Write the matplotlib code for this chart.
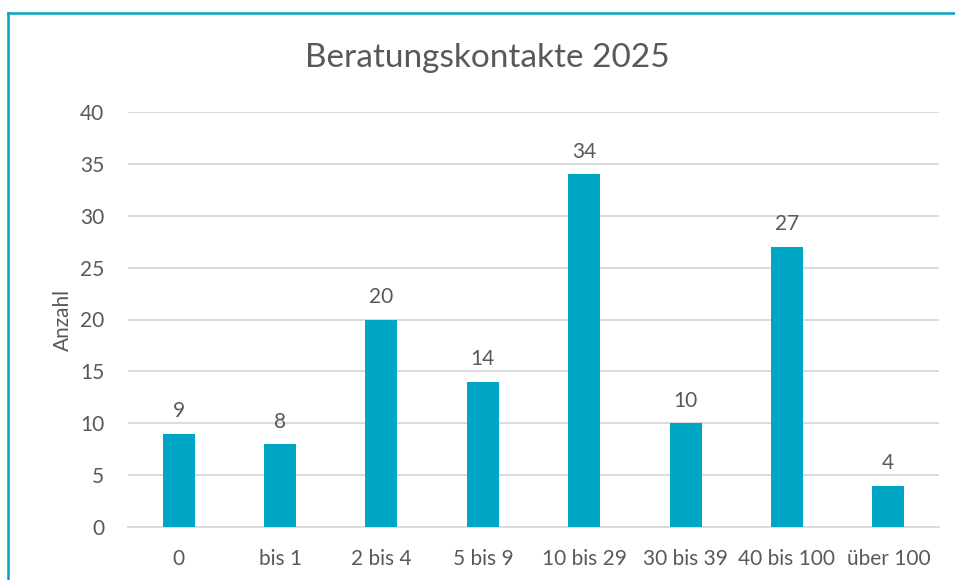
import matplotlib
matplotlib.use("Agg")
import matplotlib.pyplot as plt
from matplotlib.lines import Line2D

categories = ["0", "bis 1", "2 bis 4", "5 bis 9", "10 bis 29", "30 bis 39", "40 bis 100", "über 100"]
values = [9, 8, 20, 14, 34, 10, 27, 4]
yticks = [0, 5, 10, 15, 20, 25, 30, 35, 40]
title = "Beratungskontakte 2025"
ylabel = "Anzahl"

bar_color = "#00A7C4"
text_color = "#595959"
grid_color = "#D9D9D9"

plt.rcParams['font.family'] = ['Lato', 'DejaVu Sans']

fig = plt.figure(figsize=(9.55, 5.8), dpi=100)
ax = fig.add_axes([128/955, 1-527/580, (939-128)/955, (527-112)/580])

x = list(range(len(categories)))
bars = ax.bar(x, values, width=0.315, color=bar_color, zorder=3)
ax.set_xlim(-0.5, len(categories)-0.5)
ax.set_ylim(0, 40)
ax.set_yticks(yticks)
ax.set_xticks(x)
ax.set_xticklabels(categories)
ax.tick_params(axis='both', length=0, labelsize=15, colors=text_color)
ax.tick_params(axis='x', pad=16)
ax.tick_params(axis='y', pad=17)
ax.grid(axis='y', color=grid_color, linewidth=1.3, zorder=0)
for s in ['top', 'right', 'left']:
    ax.spines[s].set_visible(False)
ax.spines['bottom'].set_color(grid_color)
ax.spines['bottom'].set_linewidth(1.3)

for xi, v in zip(x, values):
    ax.annotate(str(v), (xi, v), xytext=(0, 9), textcoords='offset points',
                ha='center', va='bottom', fontsize=15, color=text_color)

ax.set_ylabel(ylabel, fontsize=15, color=text_color, labelpad=5)
fig.text(487/955, 1-58/580, title, ha='center', va='center', fontsize=24, color=text_color)

fig.add_artist(Line2D([8/955, 8/955], [0, 1-13/580], color=bar_color, linewidth=1.8, transform=fig.transFigure))
fig.add_artist(Line2D([8/955, 1], [1-13/580, 1-13/580], color=bar_color, linewidth=1.8, transform=fig.transFigure))

fig.savefig("out.png", dpi=100)
